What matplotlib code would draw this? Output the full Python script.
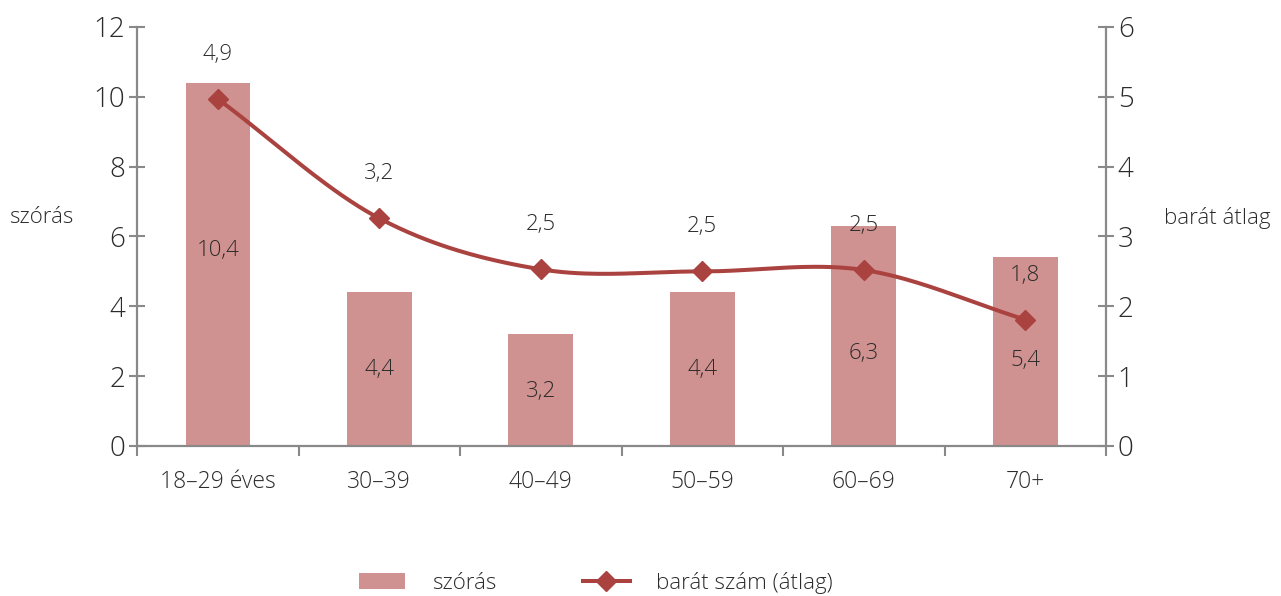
import numpy as np
import matplotlib
matplotlib.use("Agg")
import matplotlib.pyplot as plt
from matplotlib.lines import Line2D
from matplotlib.patches import Patch

plt.rcParams['font.family'] = ['Open Sans', 'DejaVu Sans']
plt.rcParams['font.weight'] = 'light'

categories = ["18–29 éves", "30–39", "40–49", "50–59", "60–69", "70+"]
szoras = [10.4, 4.4, 3.2, 4.4, 6.3, 5.4]
szoras_labels = ["10,4", "4,4", "3,2", "4,4", "6,3", "5,4"]
barat = [4.97, 3.26, 2.53, 2.50, 2.52, 1.81]
barat_labels = ["4,9", "3,2", "2,5", "2,5", "2,5", "1,8"]
# where the bar labels sit (left axis units)
szoras_label_y = [5.6, 2.2, 1.55, 2.2, 2.65, 2.45]

BAR = "#D09291"
LINE = "#AA4340"
AXIS = "#898989"
TEXT = "#2b2b2b"
FS = 16


def catmull_rom(xs, ys, n=40):
    # smooth curve through the points, like spreadsheet "smoothed line"
    xs = np.asarray(xs, float)
    ys = np.asarray(ys, float)
    px = np.concatenate([[2 * xs[0] - xs[1]], xs, [2 * xs[-1] - xs[-2]]])
    py = np.concatenate([[2 * ys[0] - ys[1]], ys, [2 * ys[-1] - ys[-2]]])
    out_x, out_y = [], []
    t = np.linspace(0, 1, n)
    for i in range(1, len(px) - 2):
        for p, out in ((px, out_x), (py, out_y)):
            p0, p1, p2, p3 = p[i - 1], p[i], p[i + 1], p[i + 2]
            seg = 0.5 * ((2 * p1) + (-p0 + p2) * t
                         + (2 * p0 - 5 * p1 + 4 * p2 - p3) * t ** 2
                         + (-p0 + 3 * p1 - 3 * p2 + p3) * t ** 3)
            out.extend(seg)
    return np.array(out_x), np.array(out_y)


fig = plt.figure(figsize=(12.81, 5.96), dpi=100)
ax = fig.add_axes([0.107, 0.2517, 0.7564, 0.703])
ax2 = ax.twinx()

x = np.arange(len(categories))
ax.bar(x, szoras, width=0.4, color=BAR, zorder=2)
for xi, ly, lab in zip(x, szoras_label_y, szoras_labels):
    ax.text(xi, ly, lab, ha="center", va="center", fontsize=FS, color=TEXT, zorder=5)

cx, cy = catmull_rom(x, barat)
ax2.plot(cx, cy, color=LINE, lw=2.9, zorder=3, solid_capstyle="round")
ax2.plot(x, barat, ls="none", marker="D", ms=10, color=LINE, zorder=4)
for xi, v, lab in zip(x, barat, barat_labels):
    ax2.annotate(lab, (xi, v), xytext=(0, 32), textcoords="offset points",
                 ha="center", va="center", fontsize=FS, color=TEXT)

ax.set_xlim(-0.5, len(categories) - 0.5)
ax.set_ylim(0, 12)
ax2.set_ylim(0, 6)
ax.set_yticks(range(0, 13, 2))
ax2.set_yticks(range(0, 7))

ax.set_xticks(x)
ax.set_xticklabels(categories, fontsize=16.5, color=TEXT)
ax.set_xticks(np.arange(-0.5, len(categories)), minor=True)
ax.tick_params(axis="x", which="major", length=0, pad=17)
ax.tick_params(axis="x", which="minor", length=7, width=1.5, color=AXIS, direction="out")
ax.tick_params(axis="y", length=11, width=1.5, color=AXIS, direction="inout",
               labelsize=20, labelcolor=TEXT, pad=3)
ax2.tick_params(axis="y", length=11, width=1.5, color=AXIS, direction="inout",
                labelsize=20, labelcolor=TEXT, pad=3)

for a in (ax, ax2):
    a.spines["top"].set_visible(False)
    for s in ("left", "right", "bottom"):
        a.spines[s].set_color(AXIS)
        a.spines[s].set_linewidth(1.6)
ax.spines["right"].set_visible(False)
ax2.spines["left"].set_visible(False)
ax2.spines["bottom"].set_visible(False)

fig.text(0.007, 0.635, "szórás", fontsize=FS, color=TEXT, va="center", ha="left")
fig.text(0.909, 0.635, "barát átlag", fontsize=FS, color=TEXT, va="center", ha="left")

handles = [Patch(facecolor=BAR, edgecolor="none"),
           Line2D([0], [0], color=LINE, lw=2.9, marker="D", ms=10)]
fig.legend(handles, ["szórás", "barát szám (átlag)"], loc="center left",
           bbox_to_anchor=(0.28, 0.022), ncol=2, frameon=False, fontsize=FS,
           labelcolor=TEXT, columnspacing=3.9, handlelength=2.1, handletextpad=1.2,
           borderpad=0, borderaxespad=0)

fig.savefig("out.png", dpi=100)
